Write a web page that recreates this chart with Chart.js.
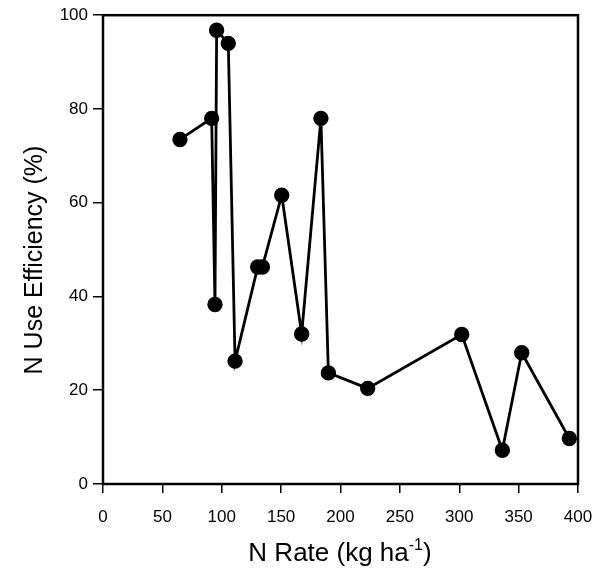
<!DOCTYPE html>
<html>
<head>
<meta charset="utf-8">
<script src="https://cdn.jsdelivr.net/npm/chart.js@4.4.1/dist/chart.umd.min.js"></script>
<style>
html,body{margin:0;padding:0;background:#fff;}
#wrap{width:608px;height:573px;position:relative;}
</style>
</head>
<body>
<div id="wrap"><canvas id="c" width="608" height="573"></canvas></div>
<script>
const nRate = [64.8, 91.5, 94.3, 95.7, 105.5, 111.2, 130.3, 134.2, 150.5, 167.3, 183.5, 189.8, 222.9, 302.1, 336.3, 352.6, 392.7];
const nUseEfficiency = [73.5, 78.0, 38.3, 96.8, 94.0, 26.2, 46.3, 46.3, 61.6, 32.0, 78.0, 23.7, 20.4, 31.9, 7.2, 28.0, 9.7];
const xTicks = [0, 50, 100, 150, 200, 250, 300, 350, 400];
const yTicks = [0, 20, 40, 60, 80, 100];
const xTitle = "N Rate (kg ha";
const xTitleSup = "-1";
const yTitle = "N Use Efficiency (%)";

const FONT = "'Liberation Sans', Arial, Helvetica, sans-serif";

const framePlugin = {
  id: 'frame',
  afterDraw(chart) {
    const ctx = chart.ctx, a = chart.chartArea;
    ctx.save();
    ctx.strokeStyle = '#000';
    ctx.lineWidth = 2.5;
    ctx.strokeRect(a.left, a.top, a.right - a.left, a.bottom - a.top);
    ctx.fillStyle = '#000';
    ctx.textBaseline = 'alphabetic';
    // x title with superscript
    ctx.font = '26px ' + FONT;
    const w1 = ctx.measureText(xTitle).width;
    ctx.font = '16px ' + FONT;
    const w2 = ctx.measureText(xTitleSup).width;
    ctx.font = '26px ' + FONT;
    const w3 = ctx.measureText(')').width;
    const total = w1 + w2 + w3;
    const cx = 340;
    let x0 = cx - total / 2;
    const by = 561;
    ctx.textAlign = 'left';
    ctx.fillText(xTitle, x0, by);
    ctx.font = '16px ' + FONT;
    ctx.fillText(xTitleSup, x0 + w1, by - 11);
    ctx.font = '26px ' + FONT;
    ctx.fillText(')', x0 + w1 + w2, by);
    // y title
    ctx.translate(42, 260);
    ctx.rotate(-Math.PI / 2);
    ctx.textAlign = 'center';
    ctx.font = '25px ' + FONT;
    ctx.fillText(yTitle, 0, 0);
    ctx.restore();
  }
};

new Chart(document.getElementById('c'), {
  type: 'scatter',
  data: {
    datasets: [{
      data: nRate.map((x, i) => ({x: x, y: nUseEfficiency[i]})),
      showLine: true,
      borderColor: '#000',
      borderWidth: 2.8,
      backgroundColor: '#000',
      pointBackgroundColor: '#000',
      pointBorderColor: '#000',
      pointRadius: 6.3,
      pointHoverRadius: 6.3,
      tension: 0
    }]
  },
  options: {
    responsive: false,
    animation: false,
    layout: {padding: {left: 0, right: 30, top: 15, bottom: 0}},
    plugins: {legend: {display: false}, tooltip: {enabled: false}},
    scales: {
      x: {
        type: 'linear', min: 0, max: 400,
        afterBuildTicks: s => { s.ticks = xTicks.map(v => ({value: v})); },
        afterFit: s => { s.height = 89; },
        grid: {drawOnChartArea: false, drawTicks: true, tickLength: 9, color: '#000', lineWidth: 1.5},
        border: {display: false},
        ticks: {color: '#000', font: {family: FONT, size: 17}, padding: 14, maxRotation: 0}
      },
      y: {
        type: 'linear', min: 0, max: 100,
        afterBuildTicks: s => { s.ticks = yTicks.map(v => ({value: v})); },
        afterFit: s => { s.width = 103; },
        grid: {drawOnChartArea: false, drawTicks: true, tickLength: 10, color: '#000', lineWidth: 1.5},
        border: {display: false},
        ticks: {color: '#000', font: {family: FONT, size: 17}, padding: 5}
      }
    }
  },
  plugins: [framePlugin]
});
</script>
</body>
</html>
